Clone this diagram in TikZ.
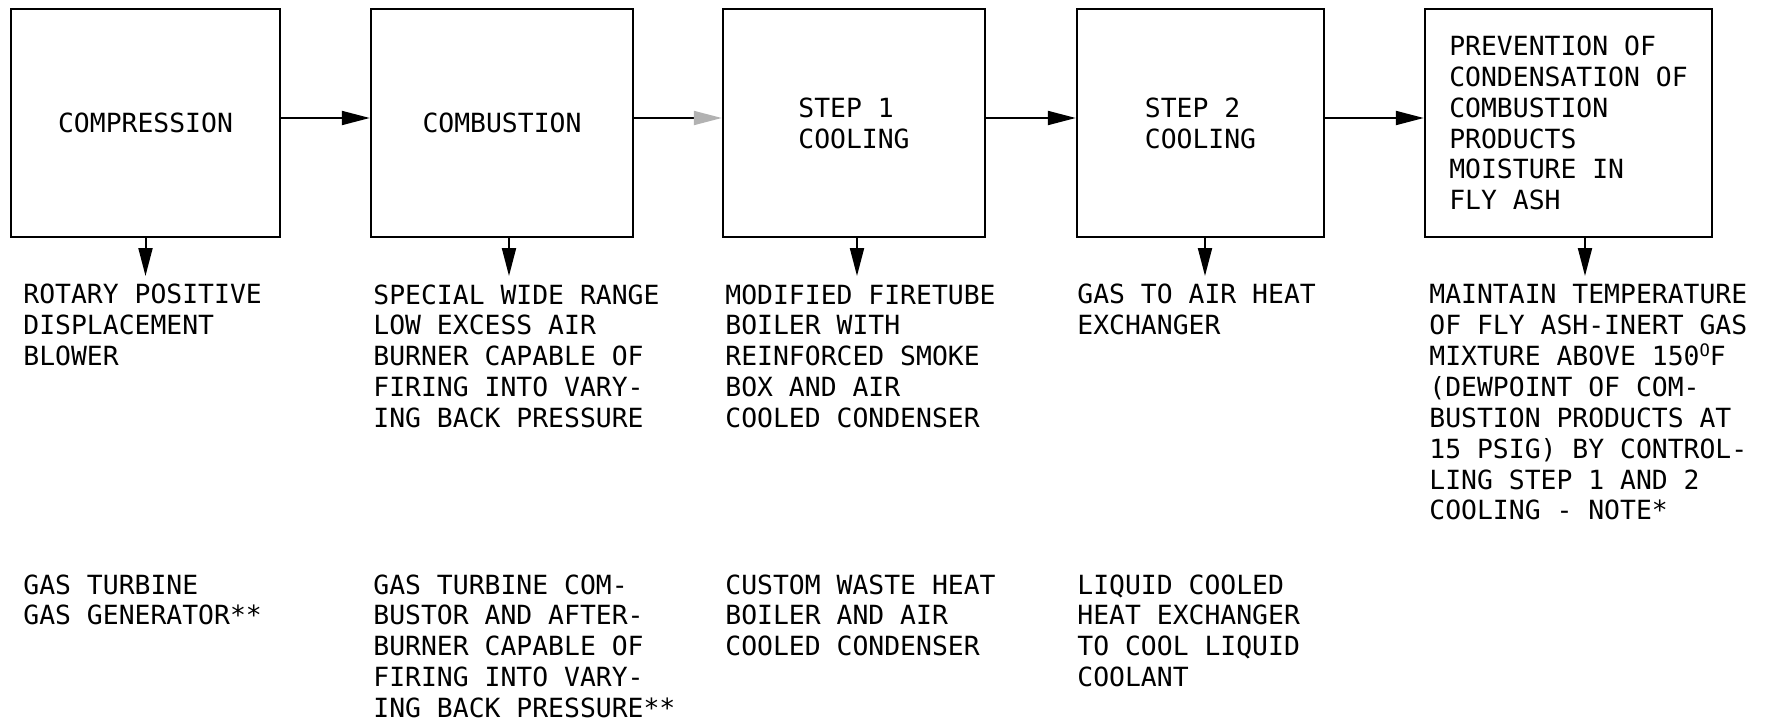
\documentclass[tikz,border=0pt]{standalone}
\usepackage{fontspec}
\newfontfamily\typefont{DejaVu Sans Mono}
\usetikzlibrary{arrows.meta,positioning}
\newcommand{\degO}{\raisebox{4.6pt}{\fontsize{8.6}{8.6}\selectfont O}}

\begin{document}
\begin{tikzpicture}[x=0.5pt, y=-0.5pt,
  box/.style={draw, line width=1.2pt, minimum height=114pt, inner sep=0pt,
    font=\typefont\fontsize{13.2}{15.45}\selectfont},
  note/.style={anchor=north west, inner sep=0pt, align=left,
    font=\typefont\fontsize{13.2}{15.45}\selectfont},
  arr/.style={-{Triangle[length=14pt,width=7pt]}, line width=1pt},
  drop/.style={arr, shorten >=4pt}
]
\useasboundingbox (0,0) rectangle (1769,723);

% process steps
\node[box, minimum width=134.5pt] (comp) at (145.5,123) {COMPRESSION};
\node[box, minimum width=131pt] (comb) at (502,123) {COMBUSTION};
\node[box, minimum width=131pt, align=left] (cool1) at (854,123) {STEP 1\\COOLING};
\node[box, minimum width=123.5pt, align=left] (cool2) at (1200.5,123) {STEP 2\\COOLING};
\node[box, minimum width=143.5pt, align=left] (prev) at (1568.5,123)
  {PREVENTION OF\\CONDENSATION OF\\COMBUSTION\\PRODUCTS\\MOISTURE IN\\FLY ASH};

% chosen equipment
\node[note] (blower) at (23,284) {ROTARY POSITIVE\\DISPLACEMENT\\BLOWER};
\node[note] (burner) at (373,284) {SPECIAL WIDE RANGE\\LOW EXCESS AIR\\BURNER CAPABLE OF\\FIRING INTO VARY-\\ING BACK PRESSURE};
\node[note] (firetube) at (725,284) {MODIFIED FIRETUBE\\BOILER WITH\\REINFORCED SMOKE\\BOX AND AIR\\COOLED CONDENSER};
\node[note] (gasair) at (1077,284) {GAS TO AIR HEAT\\EXCHANGER};
\node[note] (maintain) at (1429,284) {MAINTAIN TEMPERATURE\\OF FLY ASH-INERT GAS\\MIXTURE ABOVE 150\degO F\\(DEWPOINT OF COM-\\BUSTION PRODUCTS AT\\15 PSIG) BY CONTROL-\\LING STEP 1 AND 2\\COOLING - NOTE*};

% alternatives
\node[note] (turbine) at (23,574) {GAS TURBINE\\GAS GENERATOR**};
\node[note] (combustor) at (373,574) {GAS TURBINE COM-\\BUSTOR AND AFTER-\\BURNER CAPABLE OF\\FIRING INTO VARY-\\ING BACK PRESSURE**};
\node[note] (wasteheat) at (725,574) {CUSTOM WASTE HEAT\\BOILER AND AIR\\COOLED CONDENSER};
\node[note] (liquid) at (1077,574) {LIQUID COOLED\\HEAT EXCHANGER\\TO COOL LIQUID\\COOLANT};

% flow between steps
\draw[arr] ([yshift=2.5pt]comp.east) -- ([yshift=2.5pt]comb.west);
\draw[-{Triangle[length=14pt,width=7pt,color=gray!60]}, line width=1pt]
  ([yshift=2.5pt]comb.east) -- ([yshift=2.5pt]cool1.west);
\draw[arr] ([yshift=2.5pt]cool1.east) -- ([yshift=2.5pt]cool2.west);
\draw[arr] ([yshift=2.5pt]cool2.east) -- ([yshift=2.5pt]prev.west);

% down to equipment
\draw[drop] (comp.south) -- (comp.south |- blower.north);
\draw[drop] ([xshift=3.5pt]comb.south) -- ([xshift=3.5pt]comb.south |- burner.north);
\draw[drop] ([xshift=1.5pt]cool1.south) -- ([xshift=1.5pt]cool1.south |- firetube.north);
\draw[drop] ([xshift=2.25pt]cool2.south) -- ([xshift=2.25pt]cool2.south |- gasair.north);
\draw[drop] ([xshift=8.25pt]prev.south) -- ([xshift=8.25pt]prev.south |- maintain.north);
\end{tikzpicture}
\end{document}
